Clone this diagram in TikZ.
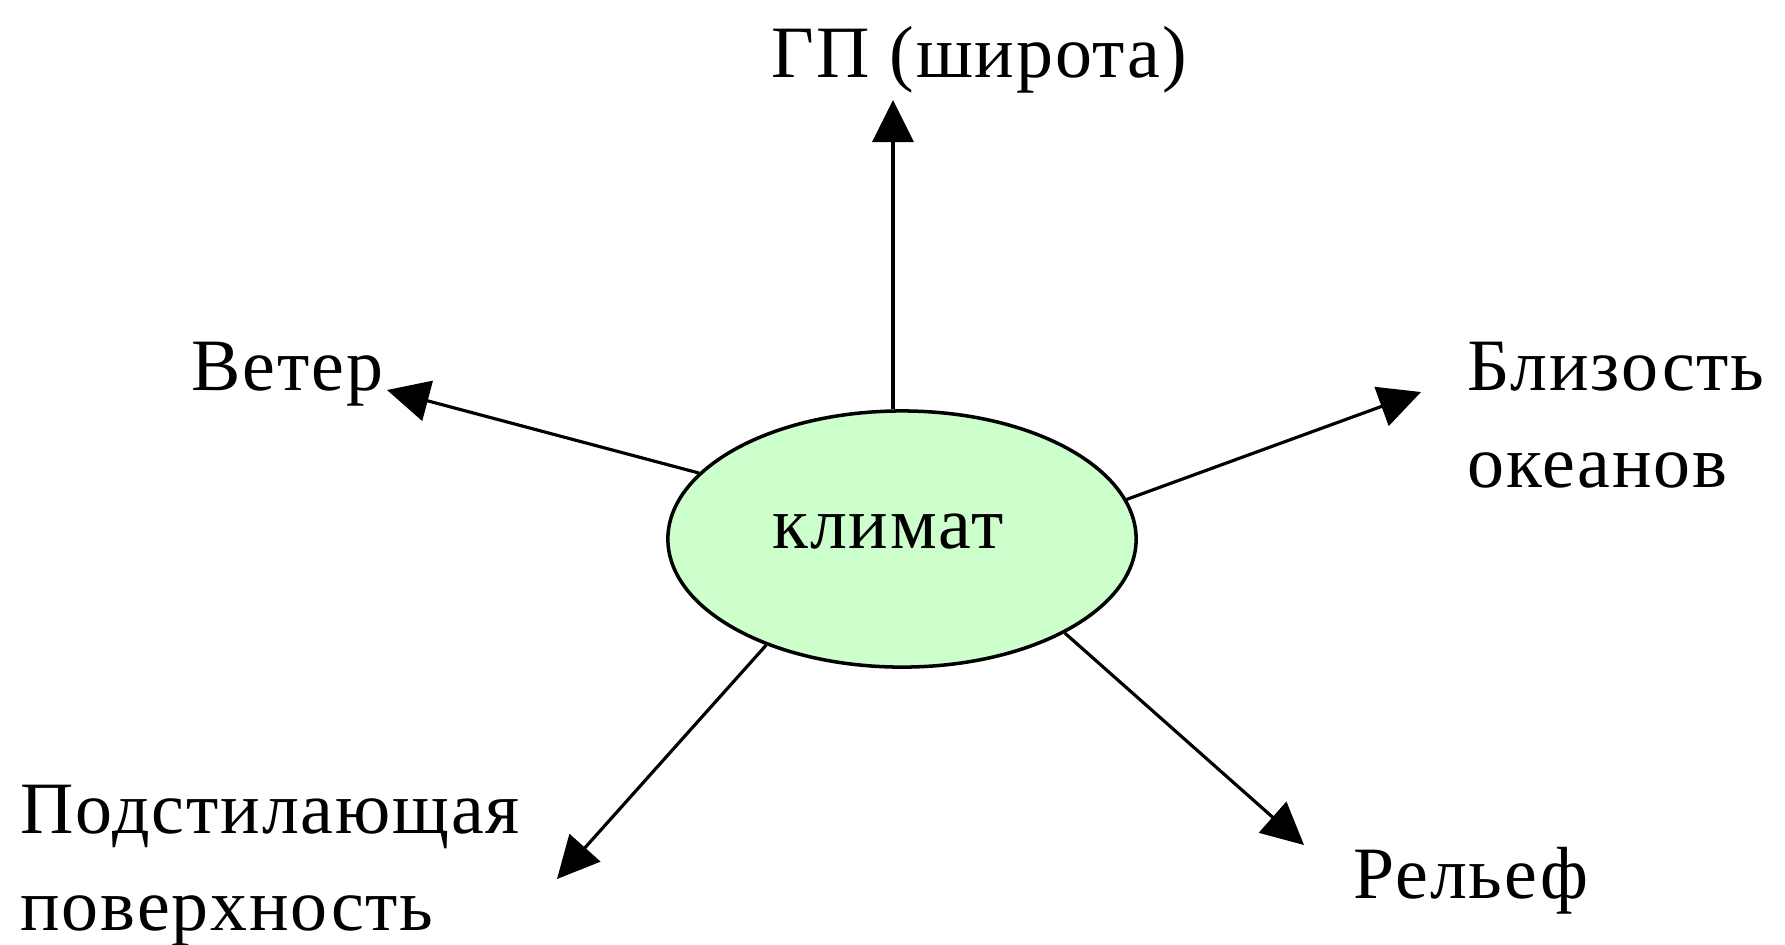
\documentclass[tikz,border=0pt]{standalone}
\usepackage{fontspec}
\setmainfont{Liberation Serif}[LetterSpace=2.5]
\usetikzlibrary{arrows.meta,shapes.geometric}
\definecolor{climfill}{RGB}{204,255,204}
\begin{document}
\begin{tikzpicture}[x=0.01cm,y=-0.01cm,
  lbl/.style={font=\fontsize{21}{26}\selectfont, inner sep=0pt, anchor=base west},
  conn/.style={line width=0.9pt, -{Triangle[length=4.2mm,width=4.1mm]}},
  climbox/.style={ellipse, draw, line width=1pt, fill=climfill, minimum width=4.68cm, minimum height=2.56cm, inner sep=0pt, font=\fontsize{21}{26}\selectfont}]
\useasboundingbox (0,0) rectangle (1785,944);
\node[climbox] (clim) at (902,539) {};
\node[font=\fontsize{21}{26}\selectfont, inner sep=0pt, anchor=base] (climt) at (888,548) {климат};
\node[lbl] (gp) at (771,77) {ГП (широта)};
\node[lbl] (veter) at (191,390) {Ветер};
\node[lbl] (bliz) at (1467,390) {Близость};
\node[lbl] (okean) at (1467,487) {океанов};
\node[lbl] (podst) at (20,833) {Подстилающая};
\node[lbl] (pover) at (20,930) {поверхность};
\node[lbl] (relef) at (1353,898) {Рельеф};
\coordinate (tgp) at (893,100);
\coordinate (tveter) at (387,390);
\coordinate (tbliz) at (1421,392);
\coordinate (tpodst) at (557,879);
\coordinate (trelef) at (1304,845);
\draw[conn] (tgp |- clim.north) -- (tgp);
\draw[conn] (clim.162) -- (tveter);
\draw[conn] (clim.10.4) -- (tbliz);
\draw[conn] (clim.218.4) -- (tpodst);
\draw[conn] (clim.330.3) -- (trelef);
\end{tikzpicture}
\end{document}
